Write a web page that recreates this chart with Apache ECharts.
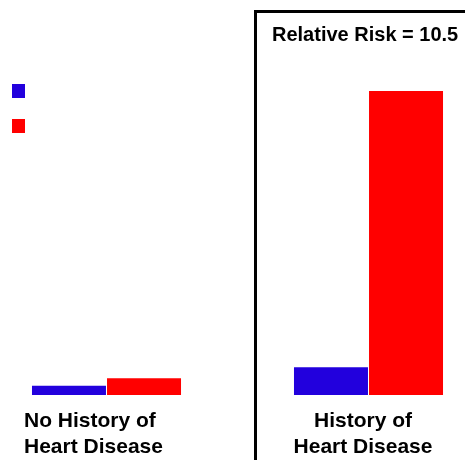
<!DOCTYPE html>
<html>
<head>
<meta charset="utf-8">
<script src="https://cdn.jsdelivr.net/npm/echarts@6/dist/echarts.min.js"></script>
<style>
  html, body { margin: 0; padding: 0; background: #ffffff; }
  #chart { width: 465px; height: 460px; }
</style>
</head>
<body>
<div id="chart"></div>
<script>
// Groups along the x axis
const categories = ['No History of\nHeart Disease', 'History of\nHeart Disease'];
// Bar heights per group
const blueValues = [9.3, 27.7];
const redValues = [16.7, 304];
const seriesNames = ['Series 1', 'Series 2'];
const riskText = 'Relative Risk = 10.5';

const FONT = '"Liberation Sans", Arial, Helvetica, sans-serif';

const chart = echarts.init(document.getElementById('chart'), null, { renderer: 'canvas' });

chart.setOption({
  animation: false,
  backgroundColor: '#ffffff',
  title: {
    text: riskText,
    left: 272,
    top: 25,
    padding: 0,
    textStyle: { fontFamily: FONT, fontWeight: 'bold', fontSize: 20, color: '#000000' }
  },
  legend: {
    orient: 'vertical',
    left: 12,
    top: 84,
    itemWidth: 13,
    itemHeight: 14,
    itemGap: 21,
    padding: 0,
    icon: 'rect',
    formatter: () => '',
    selectedMode: false,
    data: seriesNames
  },
  grid: { left: 106.5, right: 96.5, top: 45, bottom: 65, containLabel: false },
  xAxis: {
    type: 'category',
    data: categories,
    boundaryGap: false,
    axisLine: { show: false },
    axisTick: { show: false },
    axisLabel: { show: false },
    splitLine: { show: false }
  },
  yAxis: {
    type: 'value',
    min: 0,
    max: 350,
    show: false
  },
  series: [
    {
      name: seriesNames[0],
      type: 'bar',
      data: blueValues,
      barWidth: 74,
      barGap: '1.4%',
      clip: false,
      itemStyle: { color: '#2200dd' }
    },
    {
      name: seriesNames[1],
      type: 'bar',
      data: redValues,
      barWidth: 74,
      clip: false,
      itemStyle: { color: '#ff0000' }
    }
  ],
  graphic: [
    {
      type: 'rect',
      shape: { x: 255.5, y: 11.5, width: 400, height: 600 },
      style: { fill: 'none', stroke: '#000000', lineWidth: 3 },
      silent: true
    },
    {
      type: 'text',
      left: 24,
      top: 408,
      style: {
        text: categories[0],
        fontFamily: FONT, fontWeight: 'bold', fontSize: 21, lineHeight: 26,
        fill: '#000000', textAlign: 'left'
      }
    },
    {
      type: 'text',
      x: 363,
      y: 408,
      style: {
        text: categories[1],
        fontFamily: FONT, fontWeight: 'bold', fontSize: 21, lineHeight: 26,
        fill: '#000000', textAlign: 'center'
      }
    }
  ]
});
</script>
</body>
</html>
